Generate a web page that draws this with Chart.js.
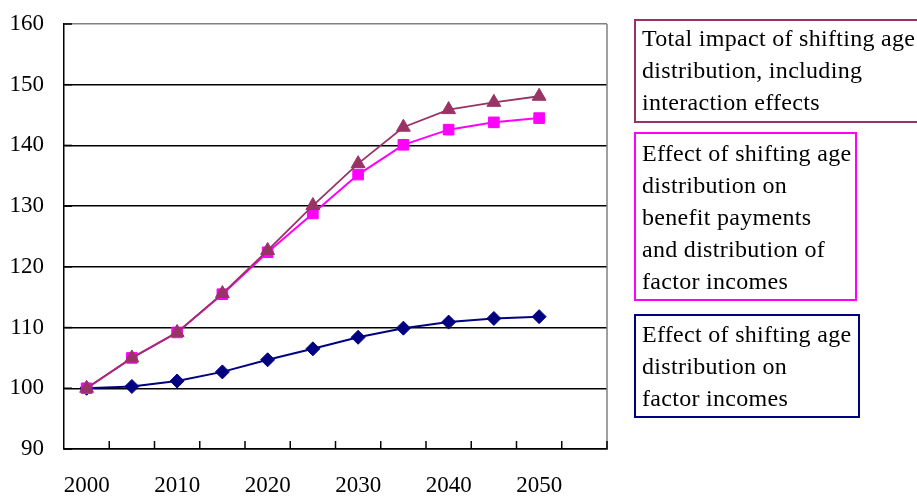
<!DOCTYPE html>
<html>
<head>
<meta charset="utf-8">
<script src="https://cdn.jsdelivr.net/npm/chart.js@4/dist/chart.umd.min.js"></script>
<style>
  html, body { margin: 0; padding: 0; background: #fff; }
  #wrap { width: 917px; height: 496px; }
</style>
</head>
<body>
<div id="wrap"><canvas id="c" width="917" height="496"></canvas></div>
<script>
// Five-year steps; the last slot is left empty so the axis runs past 2050.
const years = ['2000', '2005', '2010', '2015', '2020', '2025', '2030', '2035', '2040', '2045', '2050', '2055'];
const tickLabels = ['2000', '2010', '2020', '2030', '2040', '2050'];

// Index values (2000 = 100)
const totalImpact      = [100, 105.0, 109.2, 115.6, 122.7, 130.1, 137.0, 143.0, 145.9, 147.1, 148.1];
const benefitAndFactor = [100, 105.0, 109.2, 115.5, 122.4, 128.8, 135.2, 140.1, 142.6, 143.8, 144.5];
const factorIncomes    = [100, 100.3, 101.2, 102.7, 104.7, 106.5, 108.4, 109.9, 110.9, 111.5, 111.8];

const yMin = 90, yMax = 160, yStep = 10;

const legendTotal   = ['Total impact of shifting age', 'distribution, including', 'interaction effects'];
const legendBenefit = ['Effect of shifting age', 'distribution on', 'benefit payments', 'and distribution of', 'factor incomes'];
const legendFactor  = ['Effect of shifting age', 'distribution on', 'factor incomes'];

const SERIF = "'Liberation Serif', 'Times New Roman', serif";
const PURPLE = '#993366', MAGENTA = '#FF00FF', NAVY = '#000080';

// Inside tick marks, grey frame on the right and the boxed series labels.
const framePlugin = {
  id: 'frame',
  afterDraw(chart) {
    const { ctx, chartArea: a } = chart;
    const xs = chart.scales.x, ys = chart.scales.y;
    ctx.save();
    // right frame
    ctx.strokeStyle = '#808080';
    ctx.lineWidth = 1.5;
    ctx.beginPath();
    ctx.moveTo(a.right, a.top);
    ctx.lineTo(a.right, a.bottom);
    ctx.stroke();
    // x ticks between categories, pointing up into the plot
    ctx.strokeStyle = '#000';
    ctx.lineWidth = 1.5;
    const n = years.length;
    const step = (xs.right - xs.left) / n;
    for (let i = 1; i <= n; i++) {
      const x = xs.left + i * step;
      ctx.beginPath();
      ctx.moveTo(x, a.bottom);
      ctx.lineTo(x, a.bottom - 8);
      ctx.stroke();
    }
    // y ticks pointing right into the plot
    ys.ticks.forEach(t => {
      const y = ys.getPixelForValue(t.value);
      ctx.beginPath();
      ctx.moveTo(a.left, y);
      ctx.lineTo(a.left + 8, y);
      ctx.stroke();
    });

    // series label boxes
    const boxes = [
      { lines: legendTotal,   color: PURPLE,  x: 635, y: 20,  w: 300, h: 102, base: 46 },
      { lines: legendBenefit, color: MAGENTA, x: 635, y: 133, w: 221, h: 167, base: 160.5 },
      { lines: legendFactor,  color: NAVY,    x: 635, y: 315, w: 224, h: 102, base: 342 }
    ];
    ctx.font = '24px ' + SERIF;
    ctx.fillStyle = '#000';
    ctx.textAlign = 'left';
    ctx.textBaseline = 'alphabetic';
    if ('letterSpacing' in ctx) ctx.letterSpacing = '0.3px';
    boxes.forEach(b => {
      ctx.strokeStyle = b.color;
      ctx.lineWidth = 2;
      ctx.strokeRect(b.x, b.y, b.w, b.h);
      b.lines.forEach((s, i) => ctx.fillText(s, b.x + 7, b.base + i * 32));
    });
    ctx.restore();
  }
};

new Chart(document.getElementById('c'), {
  type: 'line',
  data: {
    labels: years,
    datasets: [
      {
        label: legendTotal.join(' '),
        data: totalImpact,
        borderColor: PURPLE, backgroundColor: PURPLE,
        borderWidth: 1.8,
        pointStyle: 'triangle', pointRadius: 8,
        pointBorderColor: PURPLE, pointBackgroundColor: PURPLE, pointBorderWidth: 1
      },
      {
        label: legendBenefit.join(' '),
        data: benefitAndFactor,
        borderColor: MAGENTA, backgroundColor: MAGENTA,
        borderWidth: 2,
        pointStyle: 'rect', pointRadius: 7.5,
        pointBorderColor: MAGENTA, pointBackgroundColor: MAGENTA, pointBorderWidth: 1
      },
      {
        label: legendFactor.join(' '),
        data: factorIncomes,
        borderColor: NAVY, backgroundColor: NAVY,
        borderWidth: 2,
        pointStyle: 'rectRot', pointRadius: 7,
        pointBorderColor: NAVY, pointBackgroundColor: NAVY, pointBorderWidth: 1
      }
    ]
  },
  options: {
    responsive: false,
    devicePixelRatio: 1,
    animation: false,
    layout: { padding: { top: 24, right: 310, left: 0, bottom: 0 } },
    plugins: { legend: { display: false }, tooltip: { enabled: false } },
    scales: {
      x: {
        type: 'category',
        offset: true,
        grid: { display: false, offset: true, drawTicks: false },
        border: { display: true, color: '#000', width: 1.5 },
        ticks: {
          autoSkip: false, maxRotation: 0, minRotation: 0,
          color: '#000', padding: 23,
          font: { family: SERIF, size: 23 },
          callback: (v, i) => tickLabels.includes(years[i]) ? years[i] : ''
        },
        afterFit: s => { s.height = 47; s.paddingLeft = 0; s.paddingRight = 0; }
      },
      y: {
        min: yMin, max: yMax,
        grid: {
          drawTicks: false,
          lineWidth: 1.5,
          color: c => (c.tick && c.tick.value === yMax) ? '#808080' : '#000'
        },
        border: { display: true, color: '#000', width: 1.5 },
        ticks: {
          stepSize: yStep, color: '#000', padding: 20,
          font: { family: SERIF, size: 23 }
        },
        afterFit: s => { s.width = 64; s.paddingTop = 0; s.paddingBottom = 0; }
      }
    }
  },
  plugins: [framePlugin]
});
</script>
</body>
</html>
